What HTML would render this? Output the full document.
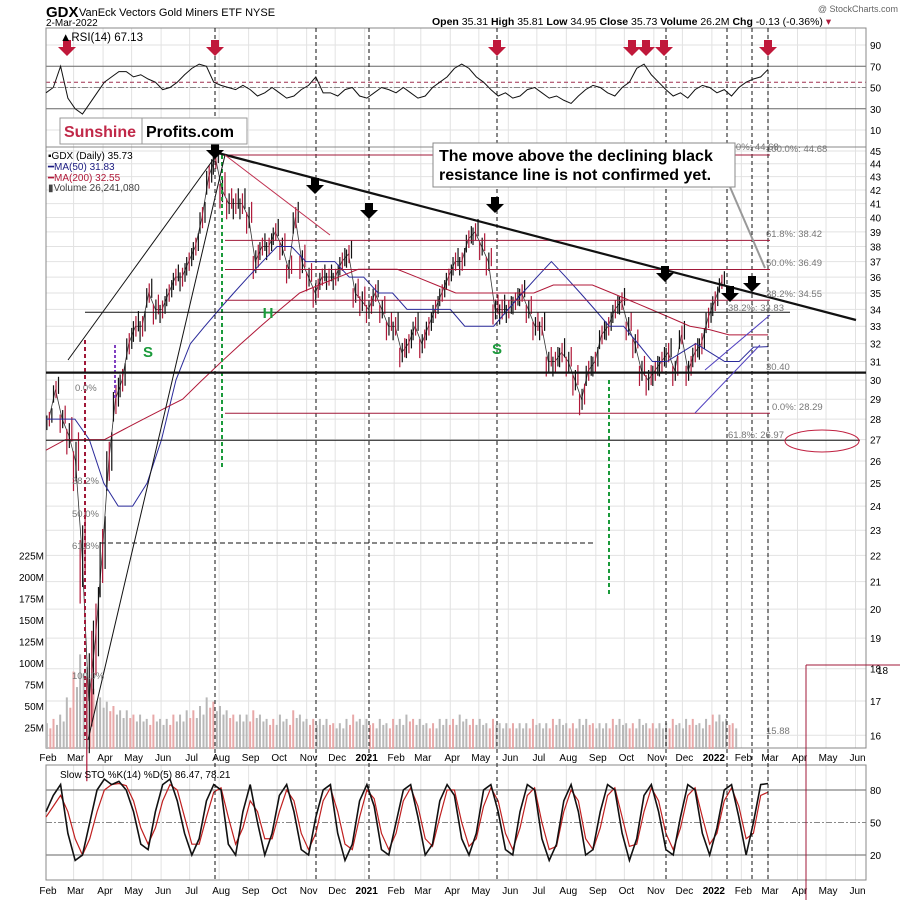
<!DOCTYPE html>
<html><head><meta charset="utf-8">
<style>
body{margin:0;background:#fff;font-family:"Liberation Sans",sans-serif}
svg text{font-family:"Liberation Sans",sans-serif}
</style></head>
<body>
<svg id="c" width="900" height="900" xmlns="http://www.w3.org/2000/svg">
<rect width="900" height="900" fill="#fff"/>
<text x="46" y="17" font-size="15" font-weight="bold">GDX</text>
<text x="79" y="16" font-size="11">VanEck Vectors Gold Miners ETF  NYSE</text>
<text x="46" y="26" font-size="10">2-Mar-2022</text>
<text x="432" y="25" font-size="10.5"><tspan font-weight="bold">Open</tspan> 35.31 <tspan font-weight="bold">High</tspan> 35.81 <tspan font-weight="bold">Low</tspan> 34.95 <tspan font-weight="bold">Close</tspan> 35.73 <tspan font-weight="bold">Volume</tspan> 26.2M <tspan font-weight="bold">Chg</tspan> -0.13 (-0.36%) <tspan fill="#b02040">▾</tspan></text>
<text x="898" y="12" font-size="9" fill="#666" text-anchor="end">@ StockCharts.com</text>
<g id="grid"></g>
<g id="marks"></g>
<g id="ann"></g>
</svg>
<script>
// ---- data (weekly approximations) ----
const closes=[28,29.5,28,27.2,26,22,17,19,22,26,29,30,32,33,33,35,34,34,35,36,36,37,38,40,43,44.5,42,41,41,41,40,37,38,38,39,38,36.5,40,37,36,35,36,36,36,37,37.5,35,34.5,34,35,34,33,33,31.5,32,33,32,33,34,35,36,37,37,38.5,39,38,37,34,34,34,34.5,35,34,33,33,31,31,31.5,31,30,29,30.5,31,32.5,33,34,34.5,33,32,30.5,30,30.5,31,31.5,30.5,32.5,30.5,31.5,32,33.5,34.5,35.7];
const ranges=[1.2,1.5,1.5,2,3,4,5,4,3.5,3,2.5,2,2,2,2,2,2,1.8,1.8,1.8,2,2,2,2.5,3,3,3,2.5,2.5,2.5,2.5,2.5,2,2,2,2,2,2.5,2.5,2,2,1.8,1.8,1.8,2,2,2,2,1.8,1.8,1.8,1.8,1.8,1.8,1.8,1.8,1.8,1.8,1.8,1.8,1.8,2,2,2,2,2,2,2,2,1.8,1.8,1.8,1.8,1.8,1.8,1.8,1.8,1.8,1.8,1.8,1.8,1.8,1.8,1.8,1.8,1.8,1.8,1.8,1.8,1.8,1.8,1.8,1.8,1.8,1.8,1.8,1.8,1.8,2,2,2,1.5];
const volumes=[30,35,40,60,90,110,95,70,60,55,50,45,45,40,40,35,40,35,35,40,40,45,45,50,60,55,50,45,40,40,40,45,40,35,35,40,35,45,40,35,35,35,35,30,30,35,40,35,35,30,35,30,35,35,40,35,35,30,30,35,35,35,40,35,35,35,30,35,30,30,30,30,30,35,30,30,35,35,30,30,35,35,30,30,30,35,35,30,30,35,30,30,30,30,35,30,35,35,30,35,40,40,35,30];
const ma50=[28,28,28,27,25,24,24,25,27,30,32,33,34,35,36,37,38,38,37,37,37,36,36,35,35,34,34,34,34,33,33,33,34,35,36,37,36,35,34,33,33,32,31,31,31.5,32,31.5,31,31,31.8,31.83];
const ma200=[26.5,27,27,27,27.5,28,28.5,29,30,31,32,33,34,35,35.5,36,36.5,36.5,36.5,36,35.5,35,35,35,35,35,35.5,35.5,35.5,35,34.5,34,33.5,33,32.8,32.5,32.5,32.5];
const rsi=[45,50,70,40,30,25,35,45,55,60,65,65,60,62,58,55,48,50,55,62,68,72,70,55,52,50,48,52,48,42,45,50,45,40,42,48,52,60,45,45,42,48,50,42,40,45,50,48,45,50,45,40,42,50,55,60,68,72,68,60,55,48,42,45,40,42,48,50,45,40,42,38,35,42,48,52,50,45,42,50,55,68,72,62,55,48,42,45,40,48,52,50,45,48,42,50,55,58,60,67];
const stoK=[60,75,85,40,15,20,50,80,90,85,88,80,60,30,25,60,85,90,70,40,20,35,70,85,80,30,20,60,85,50,20,40,75,85,60,25,20,55,80,85,40,15,30,70,85,65,25,20,50,80,85,55,20,30,70,85,75,35,20,40,80,85,60,25,20,60,85,80,35,15,30,70,85,60,20,25,60,85,80,40,15,35,75,85,60,25,20,55,85,80,40,20,45,80,85,55,20,50,85,86];
const stoD=[55,65,75,60,35,20,35,60,80,85,86,84,70,45,30,45,70,85,80,55,30,30,55,78,82,55,30,45,70,60,35,35,60,80,70,40,25,40,70,82,60,30,25,55,80,72,40,25,40,70,82,65,35,28,55,80,80,50,28,35,65,82,70,40,25,45,75,82,50,25,28,60,80,70,35,25,45,75,82,55,28,30,60,82,70,40,25,45,75,82,55,30,40,70,82,65,35,40,75,78];
const priceTicks=[45,44,43,42,41,40,39,38,37,36,35,34,33,32,31,30,29,28,27,26,25,24,23,22,21,20,19,18,17,16];
const monthLabels=["Feb","Mar","Apr","May","Jun","Jul","Aug","Sep","Oct","Nov","Dec","2021","Feb","Mar","Apr","May","Jun","Jul","Aug","Sep","Oct","Nov","Dec","2022","Feb","Mar","Apr","May","Jun"];
const monthDays=[0,29,60,90,121,151,182,213,243,274,304,335,366,394,425,455,486,516,547,578,608,639,669,700,731,759,790,820,851];
const rsiTicks=[90,70,50,30,10];
const stoTicks=[80,50,20];
const volTicks=[225,200,175,150,125,100,75,50,25];

// ---- scales ----
const X0=46,X1=866,PPD=(768-46)/759;
const xd=d=>X0+d*PPD;
const xw=i=>xd(i*7+3);
const yP=p=>151+(Math.log(45)-Math.log(p))*565;
const yR=v=>130-(v-10)*(130-45)/80;
const yS=v=>855-(v-20)*(855-790)/60;
const yV=v=>749-v*0.86;
const NS="http://www.w3.org/2000/svg";
function mk(t,a,p){const e=document.createElementNS(NS,t);for(const k in a)e.setAttribute(k,a[k]);(p||document.getElementById('marks')).appendChild(e);return e;}
const G=document.getElementById('grid'),A=document.getElementById('ann');

[[28,147],[147,748],[765,880]].forEach(([a,b])=>{
  monthDays.forEach(d=>{const x=xd(d);if(x<X1)mk('line',{x1:x,x2:x,y1:a,y2:b,stroke:'#e2e2e2'},G);});
});
priceTicks.forEach(p=>{const y=yP(p);mk('line',{x1:X0,x2:X1,y1:y,y2:y,stroke:'#e2e2e2'},G);
  const t=mk('text',{x:870,y:y+4,'font-size':10},G);t.textContent=p;
  
  });
rsiTicks.forEach(v=>{const y=yR(v);mk('line',{x1:X0,x2:X1,y1:y,y2:y,stroke:(v==70||v==30)?'#666':'#e2e2e2'},G);
  const t=mk('text',{x:870,y:y+4,'font-size':10},G);t.textContent=v;
  
  });
mk('line',{x1:X0,x2:X1,y1:yR(55),y2:yR(55),stroke:'#a03050','stroke-dasharray':'4,3'},G);
mk('line',{x1:X0,x2:X1,y1:yR(50),y2:yR(50),stroke:'#888','stroke-dasharray':'6,2,2,2'},G);
stoTicks.forEach(v=>{const y=yS(v);mk('line',{x1:X0,x2:X1,y1:y,y2:y,stroke:v==50?'#888':'#666','stroke-dasharray':v==50?'6,2,2,2':''},G);
  const t=mk('text',{x:870,y:y+4,'font-size':10},G);t.textContent=v;
  
  });
volTicks.forEach(v=>{const t=mk('text',{x:44,y:yV(v)+4,'font-size':10,'text-anchor':'end'},G);t.textContent=v+'M';
  
  });
[[28,147],[147,748],[765,880]].forEach(([a,b])=>mk('rect',{x:X0,y:a,width:X1-X0,height:b-a,fill:'none',stroke:'#888'},G));
[757,890].forEach(y=>monthLabels.forEach((m,i)=>{const t=mk('text',{x:xd(monthDays[i])+2,y:y+4,'font-size':10,'text-anchor':'middle','font-weight':m.length==4?'bold':'normal'},G);t.textContent=m;
  
  }));

// volume
volumes.forEach((v,i)=>{[-2,1.5].forEach((o,k)=>{const vv=v*(k?0.8:1);
  const r=mk('rect',{x:xw(i)+o-1,y:yV(vv),width:2,height:749-yV(vv),fill:((i+k)%3==1)?'#e8a8a8':'#b8b8b8'});
  
  });});
// close connector
const cp=mk('polyline',{points:closes.map((c,i)=>xw(i)+','+yP(c)).join(' '),fill:'none',stroke:'#333','stroke-width':0.8});


// price bars
closes.forEach((c,i)=>{const up=i==0||c>=closes[i-1];const x=xw(i);const r=ranges[i]*0.6;
  [-2,0.5,3].forEach((o,k)=>{const cc=c+(k-1)*r*0.25;
    const l=mk('line',{x1:x+o,x2:x+o,y1:yP(cc+r/2),y2:yP(cc-r/2),stroke:(up^(k==1))?'#111':'#b01838','stroke-width':1.2});
    
    });});
function poly(arr,xf,yf,col,w,name){const pts=arr.map((v,i)=>xf(i,arr.length)+','+yf(v)).join(' ');
  const p=mk('polyline',{points:pts,fill:'none',stroke:col,'stroke-width':w});
  
  }
const span=(i,n)=>xd(i*759/(n-1));
poly(ma50,span,yP,'#2a2a9a',1,'ma50-line');
poly(ma200,span,yP,'#b01838',1,'ma200-line');
poly(rsi,span,yR,'#111',1,'rsi-line');
poly(stoD,span,yS,'#c02020',1.2,'sto-d-line');
poly(stoK,span,yS,'#111',1.6,'sto-k-line');

function L(x1,y1,x2,y2,st,w,da,name){const l=mk('line',{x1,y1,x2,y2,stroke:st,'stroke-width':w||1,'stroke-dasharray':da||''},A);
  
  }
[215,316,369,497,666,727,752,768].forEach(x=>L(x,28,x,880,'#111',1,'4,3','event-vline'));
L(222,155,222,470,'#1a9a3a',2,'4,3','green-vline');L(609,380,609,595,'#1a9a3a',2,'4,3','green-vline');
L(85,340,85,740,'#a01838',2,'4,3','maroon-vline');L(115,345,115,400,'#8040c0',2,'3,2','purple-vline');
L(100,543,595,543,'#111',1,'5,3','support-dash');
[[44.68,225,770],[38.42,225,770],[36.49,225,770],[34.55,225,770],[28.29,225,770]].forEach(([p,a,b])=>L(a,yP(p),b,yP(p),'#a01838',1,'','fib-line'));
L(85,yP(33.83),790,yP(33.83),'#111',1,'','fib-line');
L(X0,yP(26.97),860,yP(26.97),'#111',1,'','fib-line');
L(X0,yP(30.4),X1,yP(30.4),'#111',2.2,'','support-30-line');
L(218,153,856,320,'#111',2.2,'','resistance-line');
L(68,360,218,153,'#111',1,'','trend-line');L(88,740,225,155,'#111',1,'','trend-line');
L(225,155,330,235,'#c03050',1,'','decline-line');
L(695,413,760,345,'#5040c0',1,'','channel-line');L(705,370,770,315,'#5040c0',1,'','channel-line');
const e=mk('ellipse',{cx:822,cy:441,rx:37,ry:11,fill:'none',stroke:'#c02040'},A);
L(806,665,806,900,'#a01838',1,'','box-line');L(806,665,900,665,'#a01838',1,'','box-line');
const fibs=[["61.8%: 38.42",766,237],["50.0%: 36.49",766,266],["38.2%: 34.55",766,297],["38.2%: 33.83",728,311],["0.0%: 28.29",772,410],["61.8%: 26.97",728,438],["0.0%: 44.68",728,150],["100.0%: 44.68",766,152],["30.40",766,370],["0.0%",75,391],["38.2%",72,484],["50.0%",72,517],["61.8%",72,549],["100.0%",72,679],["15.88",766,734]];
fibs.forEach(([s,x,y])=>{const t=mk('text',{x,y,'font-size':9.5,fill:'#777'},A);t.textContent=s;
  
  });
[67,215,497,632,646,664,768].forEach(x=>{const p=mk('path',{d:`M${x-4},40 h8 v7 h5 l-9,9 l-9,-9 h5 z`,fill:'#c0183a'},A);
  
  });
[[215,143],[315,178],[369,203],[495,197],[665,266],[730,286],[752,276]].forEach(([x,y])=>{const p=mk('path',{d:`M${x-4},${y} h8 v7 h5 l-9,9 l-9,-9 h5 z`,fill:'#000'},A);
  
  });
[["S",148,357],["H",268,318],["S",497,354]].forEach(([s,x,y])=>{const t=mk('text',{x,y,'font-size':15,'font-weight':'bold',fill:'#1a9a3a','text-anchor':'middle'},A);t.textContent=s;
  
  });
</script>
<svg style="position:absolute;left:0;top:0" width="900" height="900">
<text x="60" y="41" font-size="11.5">▲RSI(14) 67.13</text>
<rect x="60" y="118" width="82" height="26" fill="#fff" stroke="#999"/>
<rect x="142" y="118" width="105" height="26" fill="#fff" stroke="#999"/>
<text x="64" y="137" font-size="16" font-weight="bold" fill="#c02848">Sunshine</text>
<text x="146" y="137" font-size="16" font-weight="bold" fill="#000">Profits.com</text>
<text x="48" y="159" font-size="10">▪GDX (Daily) 35.73</text>
<text x="48" y="170" font-size="10" fill="#1a1a80">━MA(50) 31.83</text>
<text x="48" y="181" font-size="10" fill="#b01838">━MA(200) 32.55</text>
<text x="48" y="191" font-size="10" fill="#444">▮Volume 26,241,080</text>
<rect x="433" y="143" width="302" height="44" fill="#fff" stroke="#888"/>
<line x1="730" y1="187" x2="765" y2="268" stroke="#999" stroke-width="2"/>
<text x="439" y="161" font-size="16" font-weight="bold">The move above the declining black</text>
<text x="439" y="180" font-size="16" font-weight="bold">resistance line is not confirmed yet.</text>
<text x="877" y="674" font-size="10">18</text>
<text x="60" y="778" font-size="10">Slow STO %K(14) %D(5) 86.47, 78.21</text>
</svg>
</body></html>
